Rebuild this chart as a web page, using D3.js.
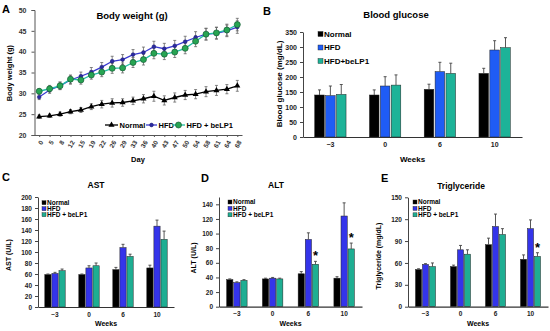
<!DOCTYPE html>
<html>
<head>
<meta charset="utf-8">
<script src="https://cdn.jsdelivr.net/npm/d3@7"></script>
<style>
  body { margin: 0; background: #fff; }
  text { font-family: Arial, "Liberation Sans", sans-serif; font-weight: bold; }
</style>
</head>
<body>
<svg id="fig" width="550" height="331"></svg>
<script>
// ---- data: body weight (panel A)
var days = [0, 5, 8, 12, 15, 19, 22, 26, 29, 33, 36, 40, 43, 47, 50, 54, 58, 61, 64, 68]
var bwNormal = [24.4, 24.6, 25.0, 25.6, 26.0, 26.8, 27.4, 27.7, 27.8, 28.2, 28.7, 29.3, 28.3, 29.0, 29.6, 29.8, 30.4, 30.7, 31.0, 31.8]
var bwNormalErr = [0.4, 0.4, 0.5, 0.5, 0.6, 0.7, 0.9, 1.0, 0.9, 0.9, 1.0, 1.2, 1.1, 1.1, 1.1, 1.1, 1.2, 1.2, 1.1, 1.3]
var bwHFD = [29.1, 30.8, 31.8, 33.2, 34.1, 35.1, 36.3, 37.7, 38.1, 39.3, 39.8, 41.2, 40.7, 41.4, 42.4, 43.4, 44.2, 44.4, 45.0, 45.9]
var bwHFDErr = [0.6, 0.8, 0.9, 1.0, 1.0, 1.1, 1.1, 1.2, 1.2, 1.2, 1.3, 1.3, 1.3, 1.3, 1.3, 1.4, 1.4, 1.4, 1.4, 1.5]
var bwBeLP1 = [30.5, 31.1, 31.8, 33.4, 33.2, 34.4, 35.1, 36.0, 36.1, 37.4, 38.1, 39.6, 39.4, 39.9, 40.8, 42.5, 44.2, 44.5, 45.2, 46.5]
var bwBeLP1Err = [0.6, 0.8, 0.9, 1.0, 1.0, 1.0, 1.1, 1.2, 1.2, 1.2, 1.3, 1.3, 1.3, 1.3, 1.3, 1.3, 1.4, 1.4, 1.4, 1.5]

// ---- data: bar panels (weeks -3, 0, 6, 10)
var weeks = ["\u22123", "0", "6", "10"]
var groupsB = ["Normal", "HFD", "HFD+beLP1"]
var groups = ["Normal", "HFD", "HFD + beLP1"]

var glucose = [[140, 140, 159, 212], [138, 170, 218, 290], [142, 173, 212, 298]]
var glucoseErr = [[17, 17, 17, 17], [32, 31, 31, 31], [33, 34, 34, 33]]

var ast = [[59, 59, 68, 71], [61, 71, 108, 147], [66, 75, 92, 123]]
var astErr = [[1, 1, 4, 5], [2, 4, 6, 11], [3, 5, 4, 15]]

var alt = [[37, 38, 45, 39], [33, 39, 92, 124], [36, 38, 58, 79]]
var altErr = [[1, 1, 3, 2], [1, 1, 9, 18], [1, 1, 4, 8]]
var altStars = [[2, 2], [2, 3]]   // [series, week]

var tg = [[51, 55, 85, 65], [58, 78, 110, 107], [55, 72, 99, 69]]
var tgErr = [[1, 2, 9, 6], [1, 6, 17, 12], [5, 6, 8, 5]]
var tgStars = [[2, 3]]

var svg = d3.select("#fig")

// ================= panel A: line chart =================
var lineColors = ["#000000", "#3a3ad0", "#22c0a2"]
var x = d3.scalePoint().domain(days).range([34.5, 242]).padding(0.45)
var y = d3.scaleLinear().domain([20, 50]).range([135, 10])

var gA = svg.append("g")

gA.append("g")
    .attr("transform", "translate(34.5,0)")
    .call(d3.axisLeft(y).tickValues(d3.range(20, 51, 5)).tickSize(3).tickPadding(5))
    .call(function(g){
        g.selectAll("text").attr("font-size", "7px").attr("fill", "#333")
        g.selectAll("path,line").attr("stroke", "#555")
    })

gA.append("g")
    .attr("transform", "translate(0,135)")
    .call(d3.axisBottom(x).tickSize(2).tickSizeOuter(0))
    .call(function(g){
        g.selectAll("path,line").attr("stroke", "#555")
        g.selectAll("text")
            .attr("font-size", "6.5px")
            .attr("fill", "#333")
            .attr("x", 0).attr("y", 0).attr("dy", "0.35em")
            .attr("transform", "translate(2,6) rotate(-60)")
            .style("text-anchor", "end")
    })

var bwSeries = [[bwNormal, bwNormalErr], [bwHFD, bwHFDErr], [bwBeLP1, bwBeLP1Err]]

bwSeries.forEach(function(s, k){
    var pts = days.map(function(d, i){ return {day: d, v: s[0][i], e: s[1][i]} })
    var g = gA.append("g")
    // error bars
    g.selectAll(".eb").data(pts).enter().append("path")
        .attr("d", function(d){
            var x0 = x(d.day), y1 = y(d.v + d.e), y2 = y(d.v - d.e)
            return "M" + x0 + "," + y1 + "V" + y2 + "M" + (x0 - 1.5) + "," + y1 + "h3M" + (x0 - 1.5) + "," + y2 + "h3"
        })
        .attr("stroke", "#666").attr("stroke-width", 0.8).attr("fill", "none")
    g.append("path")
        .datum(pts)
        .attr("d", d3.line().x(function(d){ return x(d.day) }).y(function(d){ return y(d.v) }))
        .attr("stroke", lineColors[k]).attr("stroke-width", 1.3).attr("fill", "none")
})

function marker(g, k, cx, cy){
    if (k == 0) {
        g.append("path").attr("d", d3.symbol(d3.symbolTriangle, 16)())
            .attr("transform", "translate(" + cx + "," + cy + ")").attr("fill", "#000")
    } else if (k == 1) {
        g.append("circle").attr("cx", cx).attr("cy", cy).attr("r", 1.9)
            .attr("fill", "#2a2aa0").attr("stroke", "#1a1a70").attr("stroke-width", 0.5)
    } else {
        g.append("circle").attr("cx", cx).attr("cy", cy).attr("r", 3)
            .attr("fill", "#27a552").attr("stroke", "#145a35").attr("stroke-width", 0.7)
    }
}

bwSeries.forEach(function(s, k){
    days.forEach(function(d, i){ marker(gA, k, x(d), y(s[0][i])) })
})

// legend A
var legA = [{x: 105, w: 13}, {x: 146, w: 11}, {x: 172, w: 13}]
groups.forEach(function(name, k){
    var l = legA[k]
    gA.append("line").attr("x1", l.x).attr("x2", l.x + l.w).attr("y1", 125).attr("y2", 125)
        .attr("stroke", lineColors[k]).attr("stroke-width", 1.3)
    marker(gA, k, l.x + l.w / 2, 125)
    gA.append("text").attr("x", l.x + l.w + 1.5).attr("y", 127.7).attr("font-size", "7.5px").text(name)
})

gA.append("text").attr("x", 132).attr("y", 18.5).attr("text-anchor", "middle").attr("font-size", "9.5px").text("Body weight (g)")
gA.append("text").attr("x", 138).attr("y", 162).attr("text-anchor", "middle").attr("font-size", "7.5px").text("Day")
gA.append("text").attr("transform", "translate(12,73) rotate(-90)").attr("text-anchor", "middle").attr("font-size", "7.5px").text("Body weight (g)")
gA.append("text").attr("x", 2).attr("y", 13).attr("font-size", "11px").text("A")

// ================= bar panels =================
function barPanel(o){
    var g = svg.append("g")
    var xs = d3.scaleBand().domain(weeks).range([o.x0, o.x1]).paddingInner(o.pad).paddingOuter(o.pad / 2)
    var xi = d3.scaleBand().domain(d3.range(3)).range([0, xs.bandwidth()]).padding(0.12)
    var ys = d3.scaleLinear().domain([0, o.max]).range([o.y0, o.y1])

    g.append("g").attr("transform", "translate(" + o.x0 + ",0)")
        .call(d3.axisLeft(ys).tickValues(d3.range(0, o.max + 0.1, o.step).filter(function(v){ return v <= o.max })).tickSize(3).tickPadding(3).tickSizeOuter(0))
        .call(function(a){
            a.selectAll("text").attr("font-size", o.tick + "px").attr("fill", "#222")
            a.selectAll("path,line").attr("stroke", "#444")
        })

    o.vals.forEach(function(arr, k){
        var rows = weeks.map(function(w, i){ return {w: w, v: arr[i], e: o.errs[k][i]} })
        g.selectAll(".b" + k).data(rows).enter().append("rect")
            .attr("x", function(d){ return xs(d.w) + xi(k) })
            .attr("y", function(d){ return ys(d.v) })
            .attr("width", xi.bandwidth())
            .attr("height", function(d){ return ys(0) - ys(d.v) })
            .attr("fill", o.colors[k]).attr("stroke", "#222").attr("stroke-width", 0.5)
        g.selectAll(".e" + k).data(rows).enter().append("path")
            .attr("d", function(d){
                var cx = xs(d.w) + xi(k) + xi.bandwidth() / 2, yt = ys(d.v + d.e)
                return "M" + cx + "," + ys(d.v) + "V" + yt + "M" + (cx - 1.5) + "," + yt + "h3"
            })
            .attr("stroke", "#444").attr("stroke-width", 0.9).attr("fill", "none")
    })

    g.append("g").attr("transform", "translate(0," + o.y0 + ")")
        .call(d3.axisBottom(xs).tickSize(0).tickPadding(o.xpad).tickSizeOuter(0))
        .call(function(a){
            a.selectAll("text").attr("font-size", o.tick + "px").attr("fill", "#222")
            a.select("path").attr("stroke", "#333").attr("stroke-width", 1.2)
        })

    ;(o.stars || []).forEach(function(s){
        var k = s[0], i = s[1]
        var cx = xs(weeks[i]) + xi(k) + xi.bandwidth() / 2
        g.append("text").attr("x", cx).attr("y", ys(o.vals[k][i] + o.errs[k][i]) - 1)
            .attr("text-anchor", "middle").attr("font-size", "13px").text("*")
    })

    // legend
    o.names.forEach(function(name, k){
        var ly = o.legY + k * o.legDy
        g.append("rect").attr("x", o.legX).attr("y", ly - o.sq / 2).attr("width", o.sq).attr("height", o.sq)
            .attr("fill", o.colors[k]).attr("stroke", "#222").attr("stroke-width", 0.4)
        g.append("text").attr("x", o.legX + o.sq + 1).attr("y", ly + o.legFont * 0.36)
            .attr("font-size", o.legFont + "px").text(name)
    })

    g.append("text").attr("x", o.titleX).attr("y", o.titleY).attr("text-anchor", "middle").attr("font-size", o.titleFont + "px").text(o.title)
    g.append("text").attr("x", (o.x0 + o.x1) / 2).attr("y", o.weeksY).attr("text-anchor", "middle").attr("font-size", o.labFont + "px").text("Weeks")
    g.append("text").attr("transform", "translate(" + o.ylabX + "," + o.ylabY + ") rotate(-90)").attr("text-anchor", "middle").attr("font-size", o.labFont + "px").text(o.ylabel)
    g.append("text").attr("x", o.letX).attr("y", o.letY).attr("font-size", "11px").text(o.letter)
}

var colB = ["#000000", "#1f5cf5", "#1db398"]
var colC = ["#000000", "#3434ea", "#1eae92"]

barPanel({x0: 303, x1: 522, y0: 137, y1: 32, max: 350, step: 50, pad: 0.38,
    vals: glucose, errs: glucoseErr, colors: colB, names: groupsB,
    tick: 7, xpad: 5, legX: 318, legY: 34, legDy: 13.5, sq: 5, legFont: 8,
    title: "Blood glucose", titleX: 396, titleY: 18, titleFont: 9.5,
    weeksY: 162, labFont: 8, ylabel: "Blood glucose (mg/dL)", ylabX: 282, ylabY: 84,
    letter: "B", letX: 263, letY: 15})

barPanel({x0: 38, x1: 174, y0: 307, y1: 197, max: 200, step: 20, pad: 0.35,
    vals: ast, errs: astErr, colors: colC, names: groups,
    tick: 6.5, xpad: 5, legX: 42, legY: 202.7, legDy: 6, sq: 4, legFont: 6.5,
    title: "AST", titleX: 96, titleY: 188, titleFont: 8.5,
    weeksY: 326, labFont: 7, ylabel: "AST (U/L)", ylabX: 11, ylabY: 255,
    letter: "C", letX: 2, letY: 181})

barPanel({x0: 219, x1: 362, y0: 306.7, y1: 197, max: 150, step: 20, pad: 0.38,
    vals: alt, errs: altErr, colors: colC, names: groups, stars: altStars,
    tick: 6.5, xpad: 5, legX: 228, legY: 202, legDy: 6.4, sq: 4, legFont: 6.5,
    title: "ALT", titleX: 276, titleY: 188, titleFont: 8.5,
    weeksY: 326, labFont: 7, ylabel: "ALT (U/L)", ylabX: 196, ylabY: 258,
    letter: "D", letX: 201, letY: 182})

barPanel({x0: 408, x1: 548, y0: 306.7, y1: 197.3, max: 150, step: 30, pad: 0.38,
    vals: tg, errs: tgErr, colors: colC, names: groups, stars: tgStars,
    tick: 6.5, xpad: 5, legX: 413, legY: 202, legDy: 6.4, sq: 4, legFont: 6.5,
    title: "Triglyceride", titleX: 461, titleY: 189, titleFont: 8.5,
    weeksY: 326, labFont: 7, ylabel: "Triglyceride (mg/dL)", ylabX: 381, ylabY: 256,
    letter: "E", letX: 381, letY: 182})
</script>
</body>
</html>
